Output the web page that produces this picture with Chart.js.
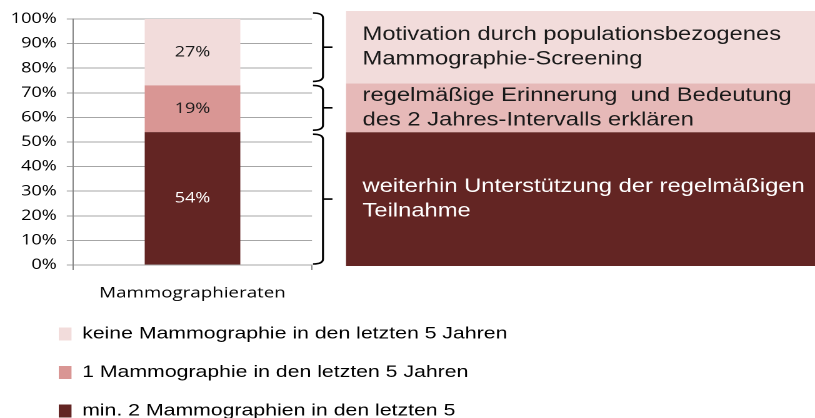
<!DOCTYPE html>
<html>
<head>
<meta charset="utf-8">
<script src="https://cdn.jsdelivr.net/npm/chart.js@4"></script>
<style>
  html, body { margin: 0; padding: 0; background: #fff; overflow: hidden; }
  /* the original chart is stretched sideways, so draw narrow and stretch */
  #wrap { width: 652px; height: 418px; transform: scaleX(1.25); transform-origin: 0 0; }
</style>
</head>
<body>
<div id="wrap"><canvas id="chart" width="652" height="418"></canvas></div>
<script>
// Data
const categories = ['Mammographieraten'];
const seriesNames = [
  'min. 2 Mammographien in den letzten 5',
  '1 Mammographie in den letzten 5 Jahren',
  'keine Mammographie in den letzten 5 Jahren'
];
const minTwoValues = [54];
const oneValues = [19];
const noneValues = [27];
const seriesColors = ['#632523', '#d99694', '#f2dcdb'];
const labelColors = ['#ffffff', '#1a1a1a', '#1a1a1a'];
const yTickValues = [0, 10, 20, 30, 40, 50, 60, 70, 80, 90, 100];

// Notes on the right, one per series (bottom to top)
const noteLines = [
  ['weiterhin Unterstützung der regelmäßigen', 'Teilnahme'],
  ['regelmäßige Erinnerung  und Bedeutung', 'des 2 Jahres-Intervalls erklären'],
  ['Motivation durch populationsbezogenes', 'Mammographie-Screening']
];
const noteColors = ['#632523', '#e6b9b8', '#f2dcdb'];
const noteTextColors = ['#ffffff', '#1a1a1a', '#1a1a1a'];

const seriesValues = [minTwoValues, oneValues, noneValues];

// Percent labels in the middle of each bar segment
const segmentLabels = {
  id: 'segmentLabels',
  afterDatasetsDraw(chart) {
    const ctx = chart.ctx;
    ctx.save();
    ctx.font = '14.5px "Open Sans"';
    ctx.textAlign = 'center';
    ctx.textBaseline = 'middle';
    chart.data.datasets.forEach((ds, i) => {
      chart.getDatasetMeta(i).data.forEach((bar, j) => {
        const p = bar.getCenterPoint();
        ctx.fillStyle = labelColors[i];
        ctx.fillText(ds.data[j] + '%', p.x, p.y);
      });
    });
    ctx.restore();
  }
};

// Braces and coloured text boxes beside the bar
const sideNotes = {
  id: 'sideNotes',
  afterDraw(chart) {
    const ctx = chart.ctx;
    const y = chart.scales.y;
    const boxLeft = 276.8, boxRight = chart.width;
    const textX = 290;
    const xHook = 250.4, xLine = 258.4, xTip = 266;
    let low = 0;
    let prevTop = y.getPixelForValue(0) + 1;
    ctx.save();
    seriesValues.forEach((vals, i) => {
      const high = low + vals[0];
      let top = y.getPixelForValue(high);
      if (i === 1) top -= 2;
      if (i === seriesValues.length - 1) top -= 8;
      const bottom = prevTop;

      ctx.fillStyle = noteColors[i];
      ctx.fillRect(boxLeft, top, boxRight - boxLeft, bottom - top);

      const mid = (top + bottom) / 2;
      ctx.fillStyle = noteTextColors[i];
      ctx.font = '19px "Liberation Sans", Arial, sans-serif';
      ctx.textAlign = 'left';
      ctx.textBaseline = 'alphabetic';
      ctx.fillText(noteLines[i][0], textX, mid - 7);
      ctx.fillText(noteLines[i][1], textX, mid + 17.5);

      // curly brace
      const bTop = top + 2, bBot = bottom - 2, r = 5;
      const bMid = (bTop + bBot) / 2;
      ctx.strokeStyle = '#000';
      ctx.lineWidth = 1.6;
      ctx.beginPath();
      ctx.moveTo(xHook, bTop);
      ctx.quadraticCurveTo(xLine, bTop, xLine, bTop + r);
      ctx.lineTo(xLine, bBot - r);
      ctx.quadraticCurveTo(xLine, bBot, xHook, bBot);
      ctx.moveTo(xLine, bMid);
      ctx.lineTo(xTip, bMid);
      ctx.stroke();

      prevTop = top;
      low = high;
    });
    ctx.restore();
  }
};

// move the legend rows to the right so they line up under the axis labels
const legendShift = {
  id: 'legendShift',
  beforeDraw(chart) {
    const lg = chart.legend;
    const shift = 47 - 21.5 - lg.left;
    lg.left += shift;
    lg.right += shift;
  }
};

const ctx = document.getElementById('chart').getContext('2d');
new Chart(ctx, {
  type: 'bar',
  data: {
    labels: categories,
    datasets: seriesNames.map((name, i) => ({
      label: name,
      data: seriesValues[i],
      yAxisID: 'y',
      backgroundColor: seriesColors[i],
      borderWidth: 0,
      barPercentage: 0.4,
      categoryPercentage: 1.0
    }))
  },
  options: {
    responsive: false,
    animation: false,
    devicePixelRatio: 2,
    layout: { padding: { left: 6, right: 0, top: 19, bottom: 0 } },
    scales: {
      x: {
        stacked: true,
        afterFit: (scale) => { scale.height = 39; },
        grid: { drawOnChartArea: false, tickLength: 5, color: '#868686' },
        border: { color: '#a6a6a6' },
        ticks: { color: '#000', padding: 14, font: { family: 'Open Sans', size: 15 } }
      },
      y: {
        stacked: true,
        min: 0,
        max: 100,
        afterBuildTicks: (scale) => { scale.ticks = yTickValues.map(v => ({ value: v })); },
        afterFit: (scale) => { scale.width = 52.4; },
        grid: { color: '#a6a6a6', tickLength: 5 },
        border: { color: '#868686' },
        ticks: {
          color: '#000',
          padding: 8,
          font: { family: 'Open Sans', size: 14.5 },
          callback: (v) => v + '%'
        }
      },
      // empty axis that keeps the right side free for the notes
      notes: {
        position: 'right',
        min: 0,
        max: 100,
        afterFit: (scale) => { scale.width = 402.4; },
        grid: { display: false, drawTicks: false },
        border: { display: false },
        ticks: { display: false }
      }
    },
    plugins: {
      tooltip: { enabled: false },
      legend: {
        position: 'bottom',
        align: 'start',
        reverse: true,
        maxHeight: 114,
        labels: {
          boxWidth: 10.2,
          boxHeight: 13,
          padding: 21.5,
          color: '#000',
          font: { family: 'Liberation Sans', size: 17 }
        }
      }
    }
  },
  plugins: [segmentLabels, sideNotes, legendShift]
});
</script>
</body>
</html>
